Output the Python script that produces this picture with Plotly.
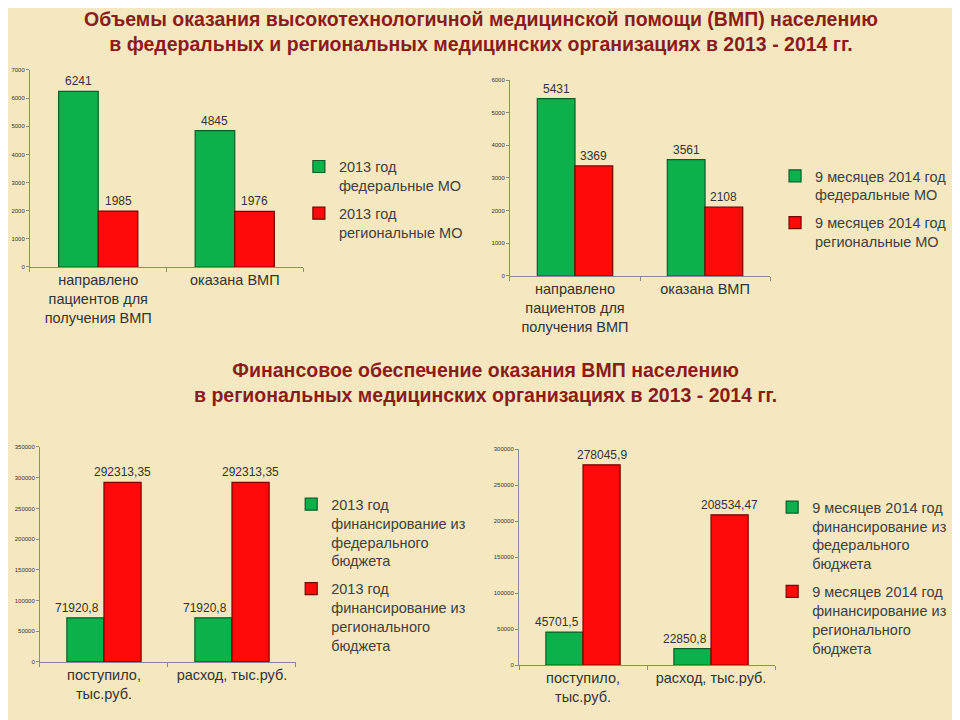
import plotly.graph_objects as go

# Данные: объемы ВМП (чел.)
cat_patients = ["направлено<br>пациентов для<br>получения ВМП", "оказана ВМП"]
fed_2013 = [6241, 4845]
reg_2013 = [1985, 1976]
fed_2014 = [5431, 3561]
reg_2014 = [3369, 2108]

# Данные: финансирование (тыс. руб.)
cat_money = ["поступило,<br>тыс.руб.", "расход, тыс.руб."]
fin_fed_2013 = [71920.8, 71920.8]
fin_reg_2013 = [292313.35, 292313.35]
fin_fed_2014 = [45701.5, 22850.8]
fin_reg_2014 = [278045.9, 208534.47]

# Подписи легенд
leg_fed_2013 = "2013 год<br>федеральные МО"
leg_reg_2013 = "2013 год<br>региональные МО"
leg_fed_2014 = "9 месяцев 2014 год<br>федеральные МО"
leg_reg_2014 = "9 месяцев 2014 год<br>региональные МО"
leg_fin_fed_2013 = "2013 год<br>финансирование из<br>федерального<br>бюджета"
leg_fin_reg_2013 = "2013 год<br>финансирование из<br>регионального<br>бюджета"
leg_fin_fed_2014 = "9 месяцев 2014 год<br>финансирование из<br>федерального<br>бюджета"
leg_fin_reg_2014 = "9 месяцев 2014 год<br>финансирование из<br>регионального<br>бюджета"

GREEN = "#0DB14B"
RED = "#FF0A0A"
TEXT = "#333333"
TITLE = "#8B1C1C"
BARGAP = 0.42
HALF = (1 - BARGAP) / 4  # смещение центра столбика от центра категории


def fmt(v):
    # формат с запятой, как на слайде
    s = f"{v:.2f}".rstrip("0").rstrip(".")
    return s.replace(".", ",")


def bar(x, y, name, color, edge, xa, ya, legend):
    return go.Bar(
        x=x, y=y, name=name, legendgroup=name,
        marker=dict(color=color, line=dict(color=edge, width=1.2)),
        xaxis=xa, yaxis=ya, legend=legend,
    )


fig = go.Figure()
fig.add_trace(bar(cat_patients, fed_2013, leg_fed_2013, GREEN, "#0a5e2a", "x", "y", "legend"))
fig.add_trace(bar(cat_patients, reg_2013, leg_reg_2013, RED, "#7a0000", "x", "y", "legend"))
fig.add_trace(bar(cat_patients, fed_2014, leg_fed_2014, GREEN, "#0a5e2a", "x2", "y2", "legend2"))
fig.add_trace(bar(cat_patients, reg_2014, leg_reg_2014, RED, "#7a0000", "x2", "y2", "legend2"))
fig.add_trace(bar(cat_money, fin_fed_2013, leg_fin_fed_2013, GREEN, "#0a5e2a", "x3", "y3", "legend3"))
fig.add_trace(bar(cat_money, fin_reg_2013, leg_fin_reg_2013, RED, "#7a0000", "x3", "y3", "legend3"))
fig.add_trace(bar(cat_money, fin_fed_2014, leg_fin_fed_2014, GREEN, "#0a5e2a", "x4", "y4", "legend4"))
fig.add_trace(bar(cat_money, fin_reg_2014, leg_fin_reg_2014, RED, "#7a0000", "x4", "y4", "legend4"))


# Подписи значений поверх столбиков (аннотации, чтобы не перекрывались соседним столбиком)
def labels(values, side, ax, shift=0):
    for i, v in enumerate(values):
        fig.add_annotation(x=i + side * HALF, y=v, xref=ax, yref=ax.replace("x", "y"),
                           text=fmt(v), showarrow=False, yanchor="bottom", xshift=shift,
                           yshift=1, font=dict(size=12, color=TEXT))


labels(fed_2013, -1, "x")
labels(reg_2013, 1, "x")
labels(fed_2014, -1, "x2")
labels(reg_2014, 1, "x2")
labels(fin_fed_2013, -1, "x3", -8)
labels(fin_reg_2013, 1, "x3")
labels(fin_fed_2014, -1, "x4", -7)
labels(fin_reg_2014, 1, "x4")

xax = dict(showline=True, linecolor="#8a8a8a", linewidth=1, ticks="outside",
           tickson="boundaries", ticklen=4, tickcolor="#8a8a8a", automargin=False,
           tickfont=dict(size=14.5, color=TEXT), showgrid=False, fixedrange=True)
yax = dict(showline=True, linecolor="#8a8a8a", linewidth=1, ticks="outside",
           ticklen=3, tickcolor="#8a8a8a", tickfont=dict(size=6, color=TEXT),
           tickformat="d", automargin=False,
           showgrid=False, zeroline=False, fixedrange=True)

leg = dict(font=dict(size=14.5, color="#404040"), bgcolor="rgba(0,0,0,0)",
           xanchor="left", yanchor="top", valign="top", tracegroupgap=6, itemwidth=30)

fig.update_layout(
    width=960, height=720,
    margin=dict(l=0, r=0, t=0, b=0),
    paper_bgcolor="#F5E8C0", plot_bgcolor="rgba(0,0,0,0)",
    font=dict(family="Liberation Sans, Arial, sans-serif", color=TEXT),
    barmode="group", bargap=BARGAP, bargroupgap=0,
    xaxis=dict(xax, domain=[0.0229, 0.3073], anchor="y"),
    yaxis=dict(yax, domain=[0.6403, 0.9139], range=[0, 7000], dtick=1000, anchor="x"),
    xaxis2=dict(xax, domain=[0.5229, 0.7938], anchor="y2"),
    yaxis2=dict(yax, domain=[0.6278, 0.9], range=[0, 6000], dtick=1000, anchor="x2"),
    xaxis3=dict(xax, domain=[0.0333, 0.3], anchor="y3"),
    yaxis3=dict(yax, domain=[0.0917, 0.3903], range=[0, 350000], dtick=50000, anchor="x3"),
    xaxis4=dict(xax, domain=[0.5323, 0.799], anchor="y4"),
    yaxis4=dict(yax, domain=[0.0875, 0.3875], range=[0, 300000], dtick=50000, anchor="x4"),
    legend=dict(leg, x=0.303, y=0.802),
    legend2=dict(leg, x=0.799, y=0.789),
    legend3=dict(leg, x=0.295, y=0.333),
    legend4=dict(leg, x=0.796, y=0.329),
    showlegend=True,
)

titles = [
    ("Объемы оказания высокотехнологичной медицинской помощи (ВМП) населению<br>"
     "в федеральных и региональных медицинских организациях в 2013 - 2014 гг.", 0.4927, 1.003),
    ("Финансовое обеспечение оказания ВМП населению<br>"
     "в региональных медицинских организациях в 2013 - 2014 гг.", 0.497, 0.515),
]
for txt, xx, yy in titles:
    fig.add_annotation(text="<b>" + txt + "</b>", x=xx, y=yy, xref="paper", yref="paper",
                       xanchor="center", yanchor="top", showarrow=False,
                       font=dict(size=19.5, color=TITLE))

fig.write_html("out.html")
